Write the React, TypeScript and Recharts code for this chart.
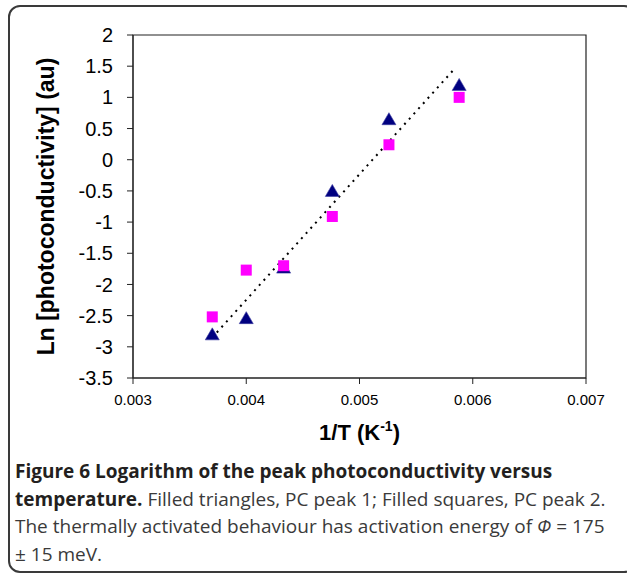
import React from "react";
import {
  ScatterChart,
  Scatter,
  XAxis,
  YAxis,
  ReferenceArea,
  ReferenceLine,
} from "recharts";

const invT = [0.0037, 0.004, 0.00433, 0.00476, 0.00526, 0.00588];
const peak1 = [-2.8, -2.54, -1.73, -0.5, 0.65, 1.2];
const peak2 = [-2.52, -1.77, -1.7, -0.91, 0.24, 1.0];
const trendX = [0.00374, 0.00585];
const trendY = [-2.77, 1.48];
const xTicks = [0.003, 0.004, 0.005, 0.006, 0.007];
const yTicks = [2, 1.5, 1, 0.5, 0, -0.5, -1, -1.5, -2, -2.5, -3, -3.5];

const data1 = invT.map((x, i) => ({ x, y: peak1[i] }));
const data2 = invT.map((x, i) => ({ x, y: peak2[i] }));

const Triangle = (p: any) => {
  const { cx, cy } = p;
  return (
    <path
      d={`M${cx},${cy - 6.5} L${cx + 7},${cy + 5.5} L${cx - 7},${cy + 5.5} Z`}
      fill="#000080"
      stroke="#3a3aa0"
      strokeWidth={0.6}
    />
  );
};

const Square = (p: any) => {
  const { cx, cy } = p;
  return <rect x={cx - 5.5} y={cy - 5.5} width={11} height={11} fill="#FF00FF" />;
};

const font = "'Liberation Sans', Arial, sans-serif";

const YTitle = (props: any) => {
  const vb = props.viewBox || {};
  const cy = vb.y + vb.height / 2;
  return (
    <text
      x={46}
      y={cy}
      transform={`rotate(-90, 46, ${cy})`}
      textAnchor="middle"
      dominantBaseline="central"
      fontFamily={font}
      fontWeight="bold"
      fontSize={23}
      fill="#000"
    >
      Ln [photoconductivity] (au)
    </text>
  );
};

const XTitle = (props: any) => {
  const vb = props.viewBox || {};
  const cx = vb.x + vb.width / 2;
  return (
    <text
      x={cx}
      y={440}
      textAnchor="middle"
      fontFamily={font}
      fontWeight="bold"
      fontSize={22}
      fill="#000"
    >
      1/T (K
      <tspan fontSize={14} dy={-9}>-1</tspan>
      <tspan dy={9}>)</tspan>
    </text>
  );
};

export default function App() {
  return (
    <div
      style={{
        position: "absolute",
        left: 0,
        top: 0,
        width: 627,
        height: 574,
        overflow: "hidden",
        background: "#fff",
      }}
    >
      <div
        style={{
          position: "absolute",
          left: 8,
          top: 5,
          width: 624,
          height: 564,
          border: "2px solid #3a3a3a",
          borderRadius: 12,
        }}
      />
      <div style={{ position: "absolute", left: 0, top: 0 }}>
        <ScatterChart
          width={627}
          height={460}
          margin={{ top: 35, right: 41, left: 0, bottom: 22 }}
        >
          <XAxis
            type="number"
            dataKey="x"
            domain={[0.003, 0.007]}
            ticks={xTicks}
            tickFormatter={(v: number) => v.toFixed(3)}
            height={60}
            stroke="#222"
            tickSize={6}
            tickMargin={10}
            tick={{ fontSize: 15, fill: "#000", fontFamily: font }}
            label={<XTitle />}
            allowDataOverflow
          />
          <YAxis
            type="number"
            dataKey="y"
            domain={[-3.5, 2]}
            ticks={yTicks}
            width={133}
            stroke="#222"
            tickSize={6}
            tickMargin={14}
            tick={{ fontSize: 20, fill: "#000", fontFamily: font }}
            label={<YTitle />}
            allowDataOverflow
          />
          <ReferenceArea
            x1={0.003}
            x2={0.007}
            y1={-3.5}
            y2={2}
            fill="none"
            fillOpacity={0}
            stroke="#222"
            strokeWidth={1.2}
          />
          <Scatter data={data1} shape={<Triangle />} isAnimationActive={false} />
          <Scatter data={data2} shape={<Square />} isAnimationActive={false} />
          <ReferenceLine
            segment={[
              { x: trendX[0], y: trendY[0] },
              { x: trendX[1], y: trendY[1] },
            ]}
            stroke="#000"
            strokeWidth={2}
            strokeDasharray="2 5"
            ifOverflow="visible"
          />
        </ScatterChart>
      </div>
      <div
        style={{
          position: "absolute",
          left: 15,
          top: 458,
          width: 610,
          fontFamily: "'Open Sans', sans-serif",
          fontSize: 19,
          lineHeight: "27.7px",
          color: "#3a3a3a",
          whiteSpace: "nowrap",
        }}
      >
        <div style={{ fontWeight: "bold", color: "#231f20" }}>
          Figure 6 Logarithm of the peak photoconductivity versus
        </div>
        <div>
          <span style={{ fontWeight: "bold", color: "#231f20" }}>temperature.</span>{" "}
          Filled triangles, PC peak 1; Filled squares, PC peak 2.
        </div>
        <div>
          The thermally activated behaviour has activation energy of <i>Φ</i> = 175
        </div>
        <div>± 15 meV.</div>
      </div>
    </div>
  );
}
